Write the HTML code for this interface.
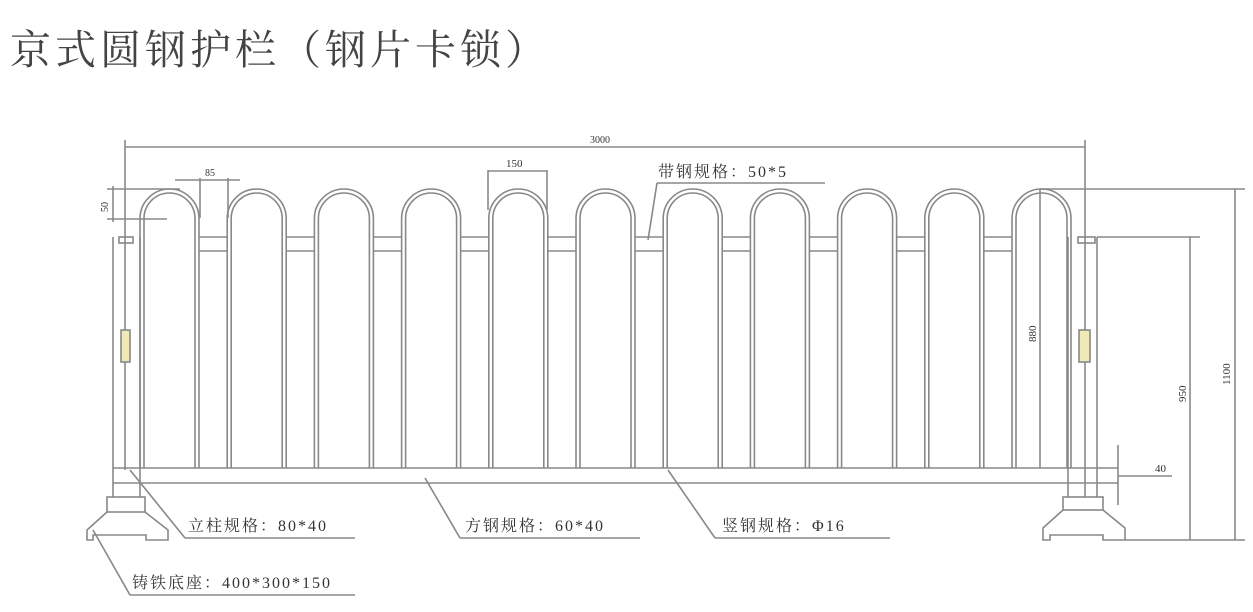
<!DOCTYPE html>
<html><head><meta charset="utf-8"><style>
html,body{margin:0;padding:0;background:#fff;width:1253px;height:612px;overflow:hidden}
svg{display:block}
text{font-family:"Liberation Serif","Noto Serif CJK SC",serif;fill:#333}
.lb{font-size:16px;letter-spacing:2px}
</style></head><body>
<svg id="s" width="1253" height="612" viewBox="0 0 1253 612" xmlns="http://www.w3.org/2000/svg">
<text x="10" y="64" style="font-family:'Liberation Serif','Noto Serif CJK SC',serif;font-size:41px;letter-spacing:4px;fill:#444">京式圆钢护栏（钢片卡锁）</text>
<g id="g" stroke="#888" stroke-width="1.6" fill="none">
<line x1="125" y1="147" x2="1085" y2="147"/>
<line x1="125" y1="140" x2="125" y2="470"/>
<line x1="1085" y1="140" x2="1085" y2="237"/>
<line x1="113" y1="237" x2="113" y2="497"/>
<line x1="140" y1="237" x2="140" y2="497"/>
<rect x="119" y="237" width="14" height="6"/>
<rect x="121" y="330" width="9" height="32" fill="#efe9b8"/>
<line x1="1085" y1="237" x2="1085" y2="497"/>
<line x1="1097" y1="237" x2="1097" y2="497"/>
<line x1="1068" y1="237" x2="1068" y2="497"/>
<rect x="1078" y="237" width="17" height="6"/>
<rect x="1079" y="330" width="11" height="32" fill="#efe9b8"/>
<line x1="113" y1="468" x2="1118" y2="468"/>
<line x1="113" y1="483" x2="1118" y2="483"/>
<rect x="107" y="497" width="38" height="15"/>
<path d="M107 512 L87 530 L87 540 L93 540 L93 535 L146 535 L146 540 L168 540 L168 530 L145 512"/>
<rect x="1063" y="497" width="40" height="13"/>
<path d="M1063 510 L1043 528 L1043 540 L1050 540 L1050 535 L1103 535 L1103 540 L1125 540 L1125 528 L1103 510"/>
<line x1="175" y1="180" x2="240" y2="180"/>
<line x1="200" y1="178" x2="200" y2="218"/>
<line x1="228" y1="178" x2="228" y2="218"/>
<line x1="488" y1="170" x2="488" y2="210"/>
<line x1="547" y1="170" x2="547" y2="210"/>
<line x1="488" y1="171" x2="547" y2="171"/>
<line x1="107" y1="189" x2="180" y2="189"/>
<line x1="107" y1="219" x2="167" y2="219"/>
<line x1="113" y1="186" x2="113" y2="222"/>
<line x1="1040" y1="189" x2="1245" y2="189"/>
<line x1="1097" y1="237" x2="1200" y2="237"/>
<line x1="1125" y1="540" x2="1245" y2="540"/>
<line x1="1040" y1="189" x2="1040" y2="468"/>
<line x1="1190" y1="237" x2="1190" y2="540"/>
<line x1="1235" y1="189" x2="1235" y2="540"/>
<line x1="1118" y1="445" x2="1118" y2="505"/>
<line x1="1118" y1="476" x2="1172" y2="476"/>
<line x1="648" y1="240" x2="657" y2="183"/><line x1="657" y1="183" x2="825" y2="183"/>
<line x1="130" y1="470" x2="185" y2="538"/><line x1="185" y1="538" x2="355" y2="538"/>
<line x1="425" y1="478" x2="460" y2="538"/><line x1="460" y1="538" x2="640" y2="538"/>
<line x1="668" y1="470" x2="715" y2="538"/><line x1="715" y1="538" x2="890" y2="538"/>
<line x1="93" y1="530" x2="130" y2="595"/><line x1="130" y1="595" x2="355" y2="595"/>
</g>
<g fill="#333" font-size="12">
<text x="590" y="143" font-size="10">3000</text>
<text x="205" y="176" font-size="10">85</text>
<text x="506" y="167" font-size="11">150</text>
<text x="0" y="0" font-size="10" transform="translate(108,212) rotate(-90)">50</text>
<text x="0" y="0" font-size="11" transform="translate(1036,342) rotate(-90)">880</text>
<text x="0" y="0" font-size="11" transform="translate(1186,402) rotate(-90)">950</text>
<text x="0" y="0" font-size="11" transform="translate(1230,385) rotate(-90)">1100</text>
<text x="1155" y="472" font-size="11">40</text>
<text class="lb" x="658" y="177">带钢规格：50*5</text>
<text class="lb" x="188" y="531">立柱规格：80*40</text>
<text class="lb" x="465" y="531">方钢规格：60*40</text>
<text class="lb" x="722" y="531">竖钢规格：Φ16</text>
<text class="lb" x="132" y="588">铸铁底座：400*300*150</text>
</g>
</svg>
<script>
var g=document.getElementById('g'),ns='http://www.w3.org/2000/svg';
function el(t,a){var e=document.createElementNS(ns,t);for(var k in a)e.setAttribute(k,a[k]);g.appendChild(e);}
var p=87.2,w=59,r=29.5;
for(var i=0;i<11;i++){
 var x=140+i*p,cy=189+r;
 el('path',{d:'M'+x+' 468 L'+x+' '+cy+' A'+r+' '+r+' 0 0 1 '+(x+w)+' '+cy+' L'+(x+w)+' 468'});
 var ri=r-4;
 el('path',{d:'M'+(x+4)+' 468 L'+(x+4)+' '+cy+' A'+ri+' '+ri+' 0 0 1 '+(x+w-4)+' '+cy+' L'+(x+w-4)+' 468'});
 if(i<10){var a=x+w,b=140+(i+1)*p;
  el('line',{x1:a,y1:237,x2:b,y2:237});el('line',{x1:a,y1:251,x2:b,y2:251});}
}
</script>
</body></html>
